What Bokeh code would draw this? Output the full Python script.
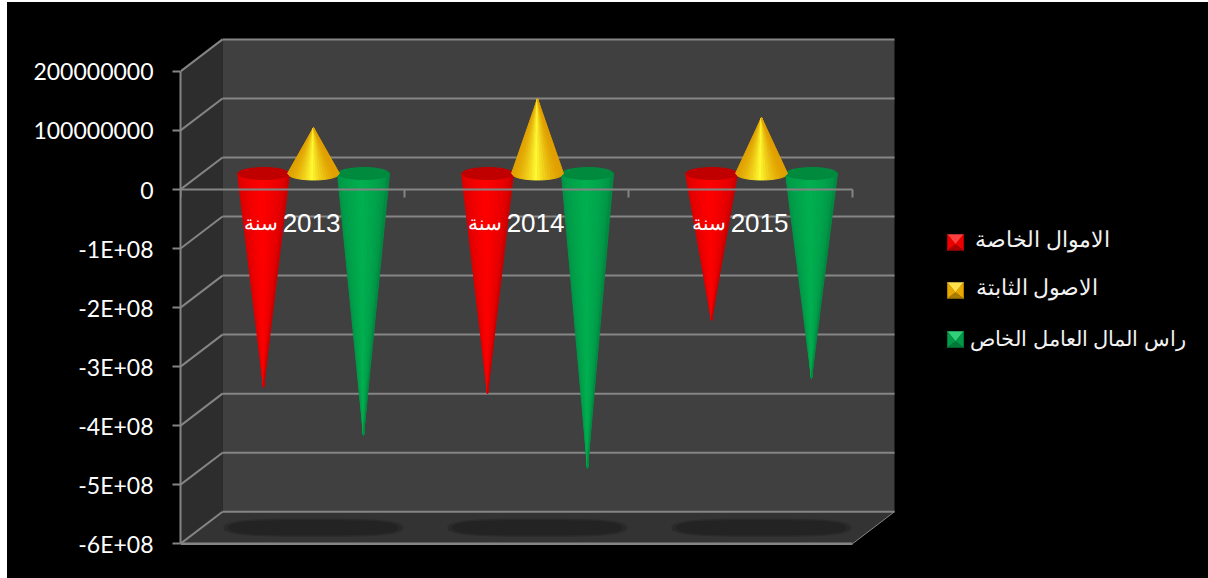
import numpy as np
from bokeh.plotting import figure
from bokeh.models import Range1d, FixedTicker, ColumnDataSource, LinearAxis
from bokeh.core.properties import value
from bokeh.embed import file_html
from bokeh.resources import INLINE

# ---- data -----------------------------------------------------------
years = ["2013", "2014", "2015"]
year_word = "سنة"
series_names = ["الاموال الخاصة", "الاصول الثابتة", "راس المال العامل الخاص"]
own_funds = [-3.62e8, -3.73e8, -2.49e8]
fixed_assets = [0.78e8, 1.27e8, 0.95e8]
working_capital = [-4.44e8, -5.0e8, -3.47e8]
y_ticks = [2e8, 1e8, 0, -1e8, -2e8, -3e8, -4e8, -5e8, -6e8]
y_tick_labels = ["200000000", "100000000", "0", "-1E+08", "-2E+08", "-3E+08", "-4E+08", "-5E+08", "-6E+08"]

# ---- layout ---------------------------------------------------------
PX_X = 224.0             # pixels per category
PX_Y = 59.04 / 1e8       # pixels per value unit
LEFT, ZERO = 180, 189    # page position of x=0 / y=0
PAGE_L, PAGE_T, W, H = 7, 2, 1201, 576
DX = 42 / PX_X           # depth offset
DY = 32 / PX_Y
OFFS = 50 / PX_X         # spacing of series within a group
A = 26 / PX_X            # cone radius
B = 6.5 / PX_Y           # cone ellipse half height
YMIN, YMAX = -6e8, 2e8


def px(x):
    return (x - LEFT) / PX_X


def py(y):
    return (ZERO - y) / PX_Y


p = figure(width=W, height=H, output_backend="svg", toolbar_location=None,
           x_range=Range1d(px(LEFT), px(1208)),
           y_range=Range1d(py(578), py(2)),
           min_border_left=LEFT - PAGE_L, min_border_right=0, min_border_top=0, min_border_bottom=0,
           background_fill_color=None, border_fill_color="black", outline_line_color=None,
           x_axis_location=None, y_axis_location=None)
p.margin = (PAGE_T, 0, 0, PAGE_L)
p.styles = {"background-color": "black"}
p.grid.visible = False

# ---- walls and floor ------------------------------------------------
p.patch([0, 0, DX, DX], [YMIN, YMAX, YMAX + DY, YMIN + DY], fill_color="#2d2d2d", line_color=None)
p.patch([DX, DX, 3 + DX, 3 + DX], [YMIN + DY, YMAX + DY, YMAX + DY, YMIN + DY], fill_color="#404040", line_color=None)
p.patch([0, 3, 3 + DX, DX], [YMIN, YMIN, YMIN + DY, YMIN + DY], fill_color="#333333", line_color=None)

# floor shadows
th = np.linspace(0, 2 * np.pi, 80)
for g in range(3):
    cx, cy = g + 0.5 + DX / 2, YMIN + DY / 2
    for rw, rh, col in [(90, 9, "#2a2a2a"), (85, 7.5, "#232323")]:
        sx = np.sign(np.cos(th)) * np.abs(np.cos(th)) ** 0.55 * rw / PX_X
        sy = np.sign(np.sin(th)) * np.abs(np.sin(th)) ** 0.8 * rh / PX_Y
        p.patch(cx + sx, cy + sy, fill_color=col, line_color=None)

# gridlines
GRID = "#858585"
yt = np.array(y_ticks, dtype=float)
p.segment([DX] * len(yt), yt + DY, [3 + DX] * len(yt), yt + DY, line_color=GRID, line_width=2)
p.segment([0] * len(yt), yt, [DX] * len(yt), yt + DY, line_color=GRID, line_width=2)
p.segment([3], [YMIN], [3 + DX], [YMIN + DY], line_color=GRID, line_width=1)
p.segment([0], [YMIN], [3], [YMIN], line_color=GRID, line_width=2.5)

# ---- cones ----------------------------------------------------------


def mix(c0, c1, t):
    c0, c1 = np.array(c0, float), np.array(c1, float)
    return "#%02x%02x%02x" % tuple(int(round(v)) for v in c0 + (c1 - c0) * t)


def cone(cx, val, edge, mid, cap, power, shift):
    n = 18
    # equal steps across the visible width, so the strips are even
    u = np.linspace(-1, 1, n + 1)
    cy = DY / 2
    ty = val + cy
    xs, ys, cols = [], [], []
    for i in range(n):
        u0, u1 = u[i], u[i + 1]
        xs.append([cx + A * u0, cx + A * u1, cx])
        ys.append([cy - B * np.sqrt(1 - u0 ** 2), cy - B * np.sqrt(1 - u1 ** 2), ty])
        um = (u0 + u1) / 2
        cols.append(mix(edge, mid, max(0.0, 1 - abs(um - shift)) ** power))
    src = ColumnDataSource(dict(xs=xs, ys=ys, c=cols))
    p.patches("xs", "ys", source=src, fill_color="c", line_color="c", line_width=1)
    if cap is not None:
        e = np.linspace(0, 2 * np.pi, 60)
        p.patch(cx + A * np.cos(e), cy + B * np.sin(e), fill_color=cap, line_color=None)


RED = ((200, 0, 0), (255, 0, 0), "#c00000", 0.45, -0.05)
YEL = ((225, 160, 0), (255, 250, 50), None, 1.6, -0.05)
GRN = ((0, 135, 65), (0, 176, 80), "#008a3e", 0.45, -0.05)
for g in range(3):
    base = g + 0.5 + DX / 2
    cone(base - OFFS, own_funds[g], *RED)
    cone(base + OFFS, working_capital[g], *GRN)
    cone(base, fixed_assets[g], *YEL)

# ---- category labels ------------------------------------------------
p.text(x=[g + 0.5 + px(LEFT + 48) for g in range(3)], y=[py(222)] * 3, text=years, text_color="white",
       text_font=value("Liberation Sans"), text_font_size="26px", text_align="right", text_baseline="middle")
p.text(x=[g + 0.5 + px(LEFT - 49) for g in range(3)], y=[py(222)] * 3, text=[year_word] * 3, text_color="white",
       text_font=value("Liberation Sans"), text_font_size="19.5px", text_align="left", text_baseline="middle")

# ---- axes -----------------------------------------------------------
yax = LinearAxis(ticker=FixedTicker(ticks=y_ticks), bounds=(YMIN, YMAX))
yax.major_label_overrides = {t: l for t, l in zip(y_ticks, y_tick_labels)}
yax.major_label_text_color = "white"
yax.major_label_text_font = "Lato"
yax.major_label_text_font_size = "23px"
yax.major_label_standoff = 19
yax.major_tick_in = 0
yax.major_tick_out = 8
yax.minor_tick_line_color = None
yax.major_tick_line_color = GRID
yax.major_tick_line_width = 2
yax.axis_line_color = GRID
yax.axis_line_width = 2
p.add_layout(yax, "left")

xax = LinearAxis(ticker=FixedTicker(ticks=[0, 1, 2, 3]), bounds=(0, 3), fixed_location=0)
xax.major_label_text_font_size = "0px"
xax.major_label_text_color = None
xax.major_tick_in = 0
xax.major_tick_out = 8
xax.minor_tick_line_color = None
xax.major_tick_line_color = GRID
xax.major_tick_line_width = 2
xax.axis_line_color = GRID
xax.axis_line_width = 2
p.add_layout(xax, "below")

# ---- legend ---------------------------------------------------------
leg_x = 947
leg_rows = [234, 282, 331]
leg_text_cx = [1042, 1036.5, 1077.5]
leg_text_y = [239, 287, 338]
leg_text_size = ["21.5px", "21.5px", "21px"]
leg_cols = [("#ff4040", "#ee0000", "#ff0000", "#a80000"),
            ("#ffe14d", "#e8a800", "#ffc000", "#a87c00"),
            ("#33d07a", "#009a48", "#00b050", "#007a3a")]
S = 16
for y0, (top, side, midc, bot) in zip(leg_rows, leg_cols):
    corners = [(leg_x, y0), (leg_x + S, y0), (leg_x + S, y0 + S), (leg_x, y0 + S)]
    c = (leg_x + S / 2, y0 + S * 0.62)
    order = [(0, 1, top), (1, 2, side), (3, 0, side), (2, 3, bot)]
    for a, b, col in order:
        pts = [corners[a], corners[b], c]
        p.patch([px(q[0]) for q in pts], [py(q[1]) for q in pts], fill_color=col, line_color=col, line_width=0.5)
for name, cx_, cy_, size in zip(series_names, leg_text_cx, leg_text_y, leg_text_size):
    p.text(x=[px(cx_)], y=[py(cy_)], text=[name], text_color="#f2f2f2",
           text_font=value("Liberation Sans"), text_font_size=size, text_align="center", text_baseline="middle")

open("out.html", "w").write(file_html(p, INLINE))
